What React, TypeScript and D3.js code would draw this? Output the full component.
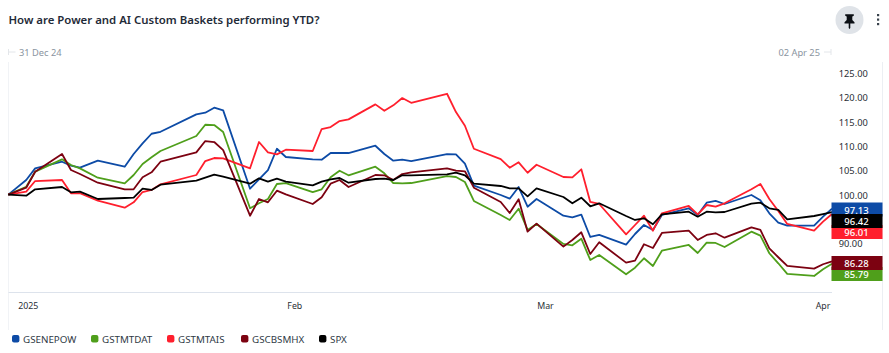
import React from "react";
import * as d3 from "d3";

const dates = ["2024-12-31","2025-01-02","2025-01-03","2025-01-06","2025-01-07","2025-01-08","2025-01-10","2025-01-13","2025-01-14","2025-01-15","2025-01-16","2025-01-17","2025-01-21","2025-01-22","2025-01-23","2025-01-24","2025-01-27","2025-01-28","2025-01-29","2025-01-30","2025-01-31",
"2025-02-03","2025-02-04","2025-02-05","2025-02-06","2025-02-07","2025-02-10","2025-02-11","2025-02-12","2025-02-13","2025-02-14","2025-02-18","2025-02-19","2025-02-20","2025-02-21","2025-02-24","2025-02-25","2025-02-26","2025-02-27","2025-02-28",
"2025-03-03","2025-03-04","2025-03-05","2025-03-06","2025-03-07","2025-03-10","2025-03-11","2025-03-12","2025-03-13","2025-03-14","2025-03-17","2025-03-18","2025-03-19","2025-03-20","2025-03-21","2025-03-24","2025-03-25","2025-03-26","2025-03-27","2025-03-28","2025-03-31","2025-04-01","2025-04-02"];

const GSENEPOW = [100,103.0,105.4,106.76,105.94,105.53,106.97,105.73,108.34,110.54,112.51,112.92,116.5,116.83,117.86,117.32,101.21,103.14,105.05,109.43,107.73,
107.25,107.17,108.55,108.55,108.55,110.05,108.34,106.97,107.17,106.9,108.34,108.28,106.35,101.83,99.92,99.16,101.56,97.51,99.1,
95.66,95.34,95.87,91.29,91.7,89.71,91.9,93.75,92.73,95.81,97.19,95.81,98.34,98.69,98.07,99.92,98.83,96.16,94.23,93.61,93.61,95.46,97.13];
const GSTMTDAT = [100,101.62,104.71,107.25,106.08,105.4,103.47,102.32,104.03,106.29,107.66,108.96,112.04,114.36,114.3,112.86,97.19,98.21,99.1,102.18,102.38,
100.53,101.09,103.55,104.91,103.97,105.73,104.38,102.38,102.32,102.38,103.82,103.62,102.59,98.69,95.81,94.78,97.1,92.73,93.96,
89.85,89.58,90.94,86.56,87.59,83.62,84.98,86.91,85.33,88.47,89.64,88.0,90.12,90.06,89.23,92.38,91.56,87.94,85.88,83.69,83.27,84.65,85.79];
const GSTMTAIS = [100,100.6,102.79,103.0,100.27,100.27,98.75,97.31,98.42,100.53,100.95,102.12,104.03,106.9,107.52,107.46,105.4,110.81,108.69,108.28,109.23,
108.96,113.48,113.89,115.12,115.47,118.55,117.24,118.35,119.85,118.88,120.73,116.97,114.16,109.43,107.31,105.53,106.64,104.5,106.14,
103.62,103.55,105.2,98.48,98.07,91.84,93.75,95.66,92.58,96.16,97.66,95.95,97.86,97.51,98.21,101.09,102.18,99.1,96.63,93.96,92.58,94.43,96.01];
const GSCBSMHX = [100,101.42,104.71,108.34,105.05,104.23,102.44,101.09,101.09,103.55,104.58,106.76,108.69,111.01,110.81,109.16,95.66,99.1,98.42,100.8,100.06,
98.07,99.45,102.24,103.0,101.56,104.03,103.97,103.0,104.23,104.58,105.4,104.91,104.79,101.42,98.48,96.22,99.03,92.38,94.02,
89.3,90.67,92.25,87.79,90.2,86.01,86.42,89.79,89.03,92.11,92.58,90.67,91.7,92.05,91.14,93.28,92.73,88.96,87.12,85.33,84.77,85.68,86.28];
const SPX = [100,99.77,101.09,101.56,100.47,100.6,99.1,99.3,99.36,101.21,100.95,102.03,102.86,103.47,104.09,103.68,102.24,103.35,102.65,103.27,102.65,
101.91,102.65,103.14,103.41,102.44,103.21,103.27,103.0,103.97,103.97,104.17,104.5,103.97,102.24,101.77,101.29,101.29,99.65,101.29,
99.51,98.21,99.36,97.6,98.21,95.6,94.78,95.13,93.9,95.95,96.49,95.46,96.49,96.36,96.42,98.13,98.34,97.19,96.84,94.92,95.6,96.01,96.42];

const seriesNames = ["GSENEPOW","GSTMTDAT","GSTMTAIS","GSCBSMHX","SPX"];
const seriesValues = [GSENEPOW,GSTMTDAT,GSTMTAIS,GSCBSMHX,SPX];
const seriesColors = ["#0d4ba6","#4f9f1b","#ff1f2d","#7c0211","#000000"];

const yTicks = [125,120,115,110,105,100,90];
const monthTicks = ["2025-01-01","2025-02-01","2025-03-01","2025-04-01"];
const monthLabels = ["2025","Feb","Mar","Apr"];
const title = "How are Power and AI Custom Baskets performing YTD?";
const startLabel = "31 Dec 24";
const endLabel = "02 Apr 25";

const FONT = "'Noto Sans', sans-serif";
const parse = d3.utcParse("%Y-%m-%d");

export default function App() {
  const x = d3.scaleUtc()
    .domain([parse(dates[0])!, parse(dates[dates.length - 1])!])
    .range([8.3, 832]);
  const y = d3.scaleLinear().domain([100, 125]).range([194.6, 73]);
  const line = d3.line<number>()
    .x((_, i) => x(parse(dates[i])!))
    .y((v) => y(v));

  // flag boxes, painted in this order so neighbours overlap as in the source
  const flags = [
    { s: 2, top: 225, textY: 232.3 },
    { s: 0, top: 202.5, textY: 210.7 },
    { s: 4, top: 214, textY: 221.8 },
    { s: 1, top: 267, textY: 274.2 },
    { s: 3, top: 256, textY: 264 },
  ];
  const legendX = [12, 91, 167, 241, 319];

  return (
    <svg width={889} height={353} viewBox="0 0 889 353"
      style={{ position: "absolute", left: 0, top: 0, background: "#fff", fontFamily: FONT }}>
      <text x={8.5} y={24} fontSize={11.4} fontWeight={600} fill="#1f2b38">{title}</text>

      <circle cx={849.5} cy={20} r={14} fill="#dfe3e8" />
      <path d="M845.2 14.2h8.6v1.5l-1.5 .7v3.6l2.2 2.2v1.3h-4.2v4.6l-.8 .9-.8-.9v-4.6h-4.2v-1.3l2.2-2.2v-3.6l-1.5-.7z" fill="#0b0f14" />
      {[15, 19.5, 24].map((cy) => <rect key={cy} x={877} y={cy - 1} width={2.2} height={2.2} fill="#39424c" />)}

      <line x1={8.5} x2={8.5} y1={62} y2={330} stroke="#f1f3f6" />
      <line x1={882.5} x2={882.5} y1={62} y2={330} stroke="#eceff3" />
      <path d="M8.5 49v6M8.5 52h7" stroke="#e3e6ea" fill="none" />
      <path d="M831 49v6M831 52h-7" stroke="#e3e6ea" fill="none" />
      <text x={19} y={56.3} fontSize={9.3} fill="#8a94a0">{startLabel}</text>
      <text x={820} y={56.3} fontSize={9.3} fill="#8a94a0" textAnchor="end">{endLabel}</text>

      <line x1={8.5} x2={832} y1={292.5} y2={292.5} stroke="#dde3ec" strokeWidth={1.2} />

      {monthTicks.map((t, i) => (
        <text key={t} x={x(parse(t)!) + (i === 0 ? 1 : 0)} y={309.3} fontSize={8.8} fill="#2a2f36"
          textAnchor={i === 0 ? "start" : "middle"}>{monthLabels[i]}</text>
      ))}

      {yTicks.map((t) => (
        <text key={t} x={838.7} y={y(t) + 4} fontSize={9.3} fill="#2a2f36">{t.toFixed(2)}</text>
      ))}

      {seriesValues.map((vals, i) => (
        <path key={seriesNames[i]} d={line(vals) ?? ""} fill="none" stroke={seriesColors[i]}
          strokeWidth={1.8} strokeLinejoin="round" />
      ))}

      {flags.map((f) => {
        const vals = seriesValues[f.s];
        return (
          <g key={f.s}>
            <rect x={831.5} y={f.top} width={51} height={14} fill={seriesColors[f.s]} />
            <text x={856.5} y={f.textY + 3.3} fontSize={9.5} fontWeight={500} fill="#fff" textAnchor="middle">
              {vals[vals.length - 1].toFixed(2)}
            </text>
          </g>
        );
      })}

      {seriesNames.map((n, i) => (
        <g key={n}>
          <rect x={legendX[i]} y={335} width={7.4} height={7.4} rx={2} fill={seriesColors[i]} />
          <text x={legendX[i] + 11} y={342.5} fontSize={9.8} fill="#2f3a46">{n}</text>
        </g>
      ))}
    </svg>
  );
}
